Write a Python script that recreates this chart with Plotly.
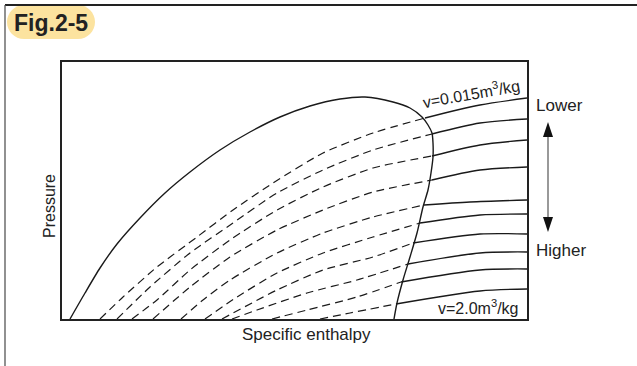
import plotly.graph_objects as go

# ---- Saturation dome (specific enthalpy h vs pressure P, arbitrary units) ----
DOME_H = [8, 23, 38, 55, 78, 103, 128, 158, 188, 218, 248, 278, 303, 331, 348, 360,
          366, 370, 371, 371, 369, 366, 361, 355, 348, 341, 335, 332]
DOME_P = [0, 26, 51, 75, 101, 126, 147, 169, 187, 202, 213, 220, 222, 217, 211, 202,
          194, 186, 176, 162, 146, 129, 112, 86, 62, 39, 16, 0]

# ---- Constant specific-volume lines: wet region (inside dome, dashed) ----
WET_H = [
    [38, 61, 95, 135, 171, 211, 261, 311, 363],
    [55, 88, 128, 171, 215, 261, 311, 370],
    [70, 95, 128, 168, 215, 261, 311, 370],
    [91, 128, 168, 215, 261, 311, 370],
    [119, 141, 168, 215, 261, 311, 362],
    [143, 175, 215, 261, 311, 358],
    [160, 215, 261, 311, 351],
    [170, 195, 245, 295, 346],
    [210, 245, 295, 339],
    [258, 288, 334],
]
WET_P = [
    [0, 22, 52, 82, 109, 136, 166, 186, 201],
    [0, 32, 66, 96, 126, 149, 169, 185],
    [0, 19, 49, 79, 109, 132, 151, 163],
    [0, 32, 62, 89, 109, 127, 139],
    [0, 19, 39, 66, 86, 102, 114],
    [0, 22, 46, 66, 82, 96],
    [0, 29, 49, 62, 76],
    [0, 9, 26, 39, 55],
    [0, 9, 22, 37],
    [0, 6, 15],
]

# ---- Constant specific-volume lines: superheated region (solid) ----
VAP_H = [
    [363, 418, 465],
    [370, 418, 465],
    [370, 418, 465],
    [370, 418, 465],
    [362, 408, 465],
    [358, 418, 465],
    [351, 418, 465],
    [346, 418, 465],
    [339, 418, 465],
    [334, 418, 465],
]
VAP_P = [
    [201, 214, 221],
    [185, 196, 200],
    [163, 174, 179],
    [139, 149, 152],
    [114, 117, 119],
    [96, 104, 105],
    [76, 85, 85],
    [55, 66, 67],
    [37, 49, 50],
    [15, 28, 30],
]

V_LABEL_TOP = "v=0.015m<sup>3</sup>/kg"
V_LABEL_BOTTOM = "v=2.0m<sup>3</sup>/kg"

W, H = 637, 366
ML, MR, MT, MB = 62, 110, 62, 47
PW, PH = W - ML - MR, H - MT - MB
INK = "#1a1a1a"
FONT = "Liberation Sans, Arial, sans-serif"


def px(x, y):
    """Page pixel position -> paper coordinates."""
    return (x - ML) / PW, (H - MB - y) / PH


fig = go.Figure()

for hs, ps in zip(WET_H, WET_P):
    fig.add_trace(go.Scatter(x=hs, y=ps, mode="lines",
                             line=dict(color=INK, width=1.2, dash="8px,5px", shape="spline", smoothing=0.6),
                             hoverinfo="skip"))
for hs, ps in zip(VAP_H, VAP_P):
    fig.add_trace(go.Scatter(x=hs, y=ps, mode="lines",
                             line=dict(color=INK, width=1.3, shape="spline", smoothing=0.8),
                             hoverinfo="skip"))
fig.add_trace(go.Scatter(x=DOME_H, y=DOME_P, mode="lines",
                         line=dict(color=INK, width=1.4, shape="spline", smoothing=0.7),
                         hoverinfo="skip"))

shapes = []

# figure badge (stadium shape)
x0, x1, y0, y1 = 7, 95, 5, 39
r = (y1 - y0) / 2
cy = (y0 + y1) / 2
k = 0.5523 * r
pts = {
    "a": px(x0 + r, y0), "b": px(x1 - r, y0),
    "c1": px(x1 - r + k, y0), "c2": px(x1, cy - k), "c": px(x1, cy),
    "d1": px(x1, cy + k), "d2": px(x1 - r + k, y1), "d": px(x1 - r, y1),
    "e": px(x0 + r, y1),
    "f1": px(x0 + r - k, y1), "f2": px(x0, cy + k), "f": px(x0, cy),
    "g1": px(x0, cy - k), "g2": px(x0 + r - k, y0),
}
fmt = lambda p: f"{p[0]:.5f},{p[1]:.5f}"
path = (f"M{fmt(pts['a'])} L{fmt(pts['b'])} C{fmt(pts['c1'])} {fmt(pts['c2'])} {fmt(pts['c'])} "
        f"C{fmt(pts['d1'])} {fmt(pts['d2'])} {fmt(pts['d'])} L{fmt(pts['e'])} "
        f"C{fmt(pts['f1'])} {fmt(pts['f2'])} {fmt(pts['f'])} "
        f"C{fmt(pts['g1'])} {fmt(pts['g2'])} {fmt(pts['a'])} Z")
shapes.append(dict(type="path", xref="paper", yref="paper", path=path,
                   fillcolor="#fce39f", line=dict(width=0), layer="above"))

# outer frame: top and left rules
a, b = px(5, 5), px(637, 5)
shapes.append(dict(type="line", xref="paper", yref="paper", x0=a[0], y0=a[1], x1=b[0], y1=b[1],
                   line=dict(color="#222", width=2.2)))
a, b = px(5, 5), px(5, 366)
shapes.append(dict(type="line", xref="paper", yref="paper", x0=a[0], y0=a[1], x1=b[0], y1=b[1],
                   line=dict(color="#555", width=1.3)))

# double-headed arrow between "Lower" and "Higher"
ax = 548
a, b = px(ax, 134), px(ax, 220)
shapes.append(dict(type="line", xref="paper", yref="paper", x0=a[0], y0=a[1], x1=b[0], y1=b[1],
                   line=dict(color="#555", width=1.2)))
for tip, base in ((122, 137), (232, 217)):
    t, l, rr = px(ax, tip), px(ax - 5, base), px(ax + 5, base)
    shapes.append(dict(type="path", xref="paper", yref="paper",
                       path=f"M{fmt(t)} L{fmt(l)} L{fmt(rr)} Z",
                       fillcolor="#111", line=dict(width=0)))

annotations = []


def label(text, x, y, size=16, xanchor="center", yanchor="middle", angle=0, color="#222"):
    p = px(x, y)
    annotations.append(dict(text=text, x=p[0], y=p[1], xref="paper", yref="paper",
                            xanchor=xanchor, yanchor=yanchor, showarrow=False,
                            textangle=angle, font=dict(family=FONT, size=size, color=color)))


label("<b>Fig.2-5</b>", 51, 23, size=23)
label("Specific enthalpy", 306, 334, size=17)
label("Pressure", 49, 206, size=16, angle=-90)
label("Lower", 534, 105, size=17, xanchor="left")
label("Higher", 534, 250, size=17, xanchor="left")
label(V_LABEL_TOP, 471, 93, size=16, angle=-10)
label(V_LABEL_BOTTOM, 478, 307, size=16)

fig.update_layout(
    width=W, height=H,
    margin=dict(l=ML, r=MR, t=MT, b=MB, pad=0),
    paper_bgcolor="white", plot_bgcolor="white",
    showlegend=False,
    shapes=shapes, annotations=annotations,
    xaxis=dict(range=[0, 465], showline=True, mirror=True, linecolor="#222", linewidth=1.5,
               showgrid=False, zeroline=False, showticklabels=False, ticks=""),
    yaxis=dict(range=[0, 257], showline=True, mirror=True, linecolor="#222", linewidth=1.5,
               showgrid=False, zeroline=False, showticklabels=False, ticks=""),
)

fig.write_html("out.html")
